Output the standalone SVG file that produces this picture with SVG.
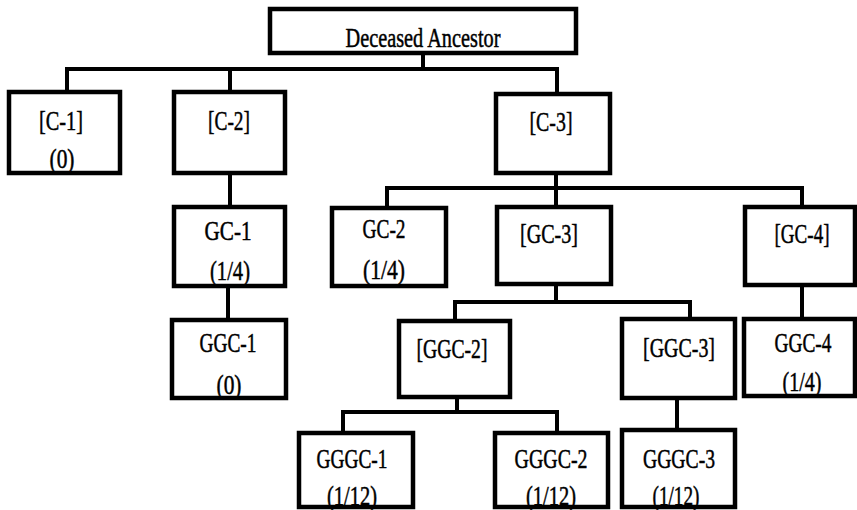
<svg xmlns="http://www.w3.org/2000/svg" width="857" height="510" viewBox="0 0 857 510">
<style>
.box{fill:#fff;stroke:#000;stroke-width:4.5}
.lnk{fill:none;stroke:#000;stroke-width:4;stroke-linecap:square}
text{font-family:"Liberation Serif","Times New Roman",serif;font-size:28px;fill:#000;stroke:#000;stroke-width:0.5;text-anchor:middle}
</style>
<rect width="857" height="510" fill="#fff"/>
<g id="connectors">
<path class="lnk" d="M423 55V69M67 69H557M67 69V90M230 69V90M557 69V93"/>
<path class="lnk" d="M230 175V205"/>
<path class="lnk" d="M556 175V188M387 188H802M387 188V206M556 188V205M802 188V205"/>
<path class="lnk" d="M228 288V318"/>
<path class="lnk" d="M556 286V302M455 302H690M455 302V319M690 302V317"/>
<path class="lnk" d="M802 287V317"/>
<path class="lnk" d="M457 399V412M343 412H557M343 412V431M557 412V431"/>
<path class="lnk" d="M677 400V428"/>
</g>
<g id="ancestor"><rect class="box" x="270" y="9" width="306" height="44"/><text x="423" y="47" font-size="28" textLength="155" lengthAdjust="spacingAndGlyphs">Deceased Ancestor</text></g>
<g id="c1"><rect class="box" x="9" y="92" width="111" height="81"/><text x="61" y="130" textLength="44" lengthAdjust="spacingAndGlyphs">[C-1]</text><text x="62" y="168" textLength="25" lengthAdjust="spacingAndGlyphs">(0)</text></g>
<g id="c2"><rect class="box" x="174" y="92" width="111" height="81"/><text x="229" y="130" textLength="42" lengthAdjust="spacingAndGlyphs">[C-2]</text></g>
<g id="c3"><rect class="box" x="496" y="94" width="114" height="79"/><text x="551" y="131" textLength="43" lengthAdjust="spacingAndGlyphs">[C-3]</text></g>
<g id="gc1"><rect class="box" x="174" y="207" width="111" height="79"/><text x="228" y="240" textLength="47" lengthAdjust="spacingAndGlyphs">GC-1</text><text x="230" y="280" textLength="40" lengthAdjust="spacingAndGlyphs">(1/4)</text></g>
<g id="gc2"><rect class="box" x="332" y="208" width="114" height="78"/><text x="384" y="238" textLength="43" lengthAdjust="spacingAndGlyphs">GC-2</text><text x="384" y="279" textLength="42" lengthAdjust="spacingAndGlyphs">(1/4)</text></g>
<g id="gc3"><rect class="box" x="497" y="207" width="114" height="77"/><text x="549" y="243" textLength="58" lengthAdjust="spacingAndGlyphs">[GC-3]</text></g>
<g id="gc4"><rect class="box" x="745" y="207" width="110" height="78"/><text x="802" y="243" textLength="55" lengthAdjust="spacingAndGlyphs">[GC-4]</text></g>
<g id="ggc1"><rect class="box" x="172" y="320" width="114" height="78"/><text x="228" y="352" textLength="57" lengthAdjust="spacingAndGlyphs">GGC-1</text><text x="229" y="394" textLength="25" lengthAdjust="spacingAndGlyphs">(0)</text></g>
<g id="ggc2"><rect class="box" x="399" y="321" width="111" height="76"/><text x="452" y="358" textLength="71" lengthAdjust="spacingAndGlyphs">[GGC-2]</text></g>
<g id="ggc3"><rect class="box" x="622" y="319" width="113" height="79"/><text x="679" y="357" textLength="72" lengthAdjust="spacingAndGlyphs">[GGC-3]</text></g>
<g id="ggc4"><rect class="box" x="744" y="319" width="111" height="77"/><text x="803" y="352" textLength="57" lengthAdjust="spacingAndGlyphs">GGC-4</text><text x="802" y="391" textLength="39" lengthAdjust="spacingAndGlyphs">(1/4)</text></g>
<g id="gggc1"><rect class="box" x="299" y="433" width="114" height="74"/><text x="352" y="468" textLength="71" lengthAdjust="spacingAndGlyphs">GGGC-1</text><text x="352" y="505" textLength="50" lengthAdjust="spacingAndGlyphs">(1/12)</text></g>
<g id="gggc2"><rect class="box" x="495" y="433" width="113" height="74"/><text x="551" y="468" textLength="73" lengthAdjust="spacingAndGlyphs">GGGC-2</text><text x="551" y="505" textLength="50" lengthAdjust="spacingAndGlyphs">(1/12)</text></g>
<g id="gggc3"><rect class="box" x="622" y="430" width="113" height="77"/><text x="679" y="468" textLength="72" lengthAdjust="spacingAndGlyphs">GGGC-3</text><text x="676" y="505" textLength="47" lengthAdjust="spacingAndGlyphs">(1/12)</text></g>
</svg>
